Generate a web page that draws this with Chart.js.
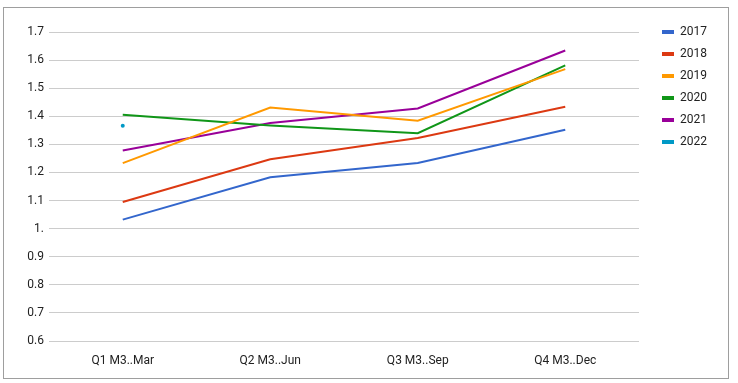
<!DOCTYPE html>
<html>
<head>
<meta charset="utf-8">
<script src="https://cdn.jsdelivr.net/npm/chart.js@4/dist/chart.umd.min.js"></script>
<style>
  html, body { margin: 0; padding: 0; background: #fff; }
  #wrap { width: 738px; height: 383px; position: relative; }
</style>
</head>
<body>
<div id="wrap"><canvas id="c" width="738" height="383"></canvas></div>
<script>
const categories = ['Q1 M3..Mar', 'Q2 M3..Jun', 'Q3 M3..Sep', 'Q4 M3..Dec'];
const seriesNames = ['2017', '2018', '2019', '2020', '2021', '2022'];
const values2017 = [1.032, 1.183, 1.234, 1.352];
const values2018 = [1.095, 1.247, 1.323, 1.434];
const values2019 = [1.233, 1.431, 1.384, 1.568];
const values2020 = [1.405, 1.367, 1.340, 1.581];
const values2021 = [1.278, 1.376, 1.428, 1.634];
const values2022 = [1.366, null, null, null];
const yTickLabels = ['0.6', '0.7', '0.8', '0.9', '1.', '1.1', '1.2', '1.3', '1.4', '1.5', '1.6', '1.7'];
const seriesColors = ['#3366cc', '#dc3912', '#ff9900', '#109618', '#990099', '#0099c6'];

const allValues = [values2017, values2018, values2019, values2020, values2021, values2022];

const datasets = seriesNames.map((name, i) => ({
  label: name,
  data: allValues[i],
  borderColor: seriesColors[i],
  backgroundColor: seriesColors[i],
  borderWidth: 2,
  pointRadius: name === '2022' ? 2 : 0,
  pointHoverRadius: name === '2022' ? 2 : 0,
  pointBorderWidth: 0,
  tension: 0,
  spanGaps: false
}));

const frame = {
  id: 'frame',
  beforeDraw(chart) {
    const ctx = chart.ctx;
    ctx.save();
    ctx.strokeStyle = '#9e9e9e';
    ctx.lineWidth = 1;
    ctx.strokeRect(3.5, 7.5, 725, 371);
    ctx.restore();
  }
};

const legendNudge = {
  id: 'legendNudge',
  afterLayout(chart) {
    const l = chart.legend;
    if (!l) return;
    l.left = 652;
    l.right = l.left + l.width;
    l.top = 16;
    l.bottom = 383;
  }
};

Chart.defaults.font.family = 'Roboto, "Noto Sans", sans-serif';
Chart.defaults.font.size = 12;
Chart.defaults.color = '#222222';

new Chart(document.getElementById('c'), {
  type: 'line',
  data: { labels: categories, datasets: datasets },
  options: {
    responsive: false,
    animation: false,
    layout: { padding: { top: 32, left: 0, right: 39, bottom: 0 } },
    plugins: {
      legend: {
        position: 'right',
        align: 'start',
        maxWidth: 60,
        labels: {
          boxWidth: 12,
          boxHeight: 4,
          padding: 10,
          color: '#222222',
          font: { size: 12 },
          generateLabels(chart) {
            const items = Chart.defaults.plugins.legend.labels.generateLabels(chart);
            items.forEach(it => { it.lineWidth = 0; it.fillStyle = it.strokeStyle; });
            return items;
          }
        }
      },
      tooltip: { enabled: false }
    },
    scales: {
      x: {
        offset: true,
        grid: { display: false },
        border: { display: false },
        ticks: { padding: 5, color: '#222222', maxRotation: 0 },
        afterFit(scale) { scale.height = 42; }
      },
      y: {
        min: 0.6,
        max: 1.7,
        grid: { color: '#cccccc', drawTicks: false, lineWidth: 1 },
        border: { display: false },
        ticks: {
          stepSize: 0.1,
          padding: 5,
          color: '#222222',
          callback(value, index) { return yTickLabels[index]; }
        },
        afterFit(scale) { scale.width = 49; }
      }
    }
  },
  plugins: [frame, legendNudge]
});
</script>
</body>
</html>
